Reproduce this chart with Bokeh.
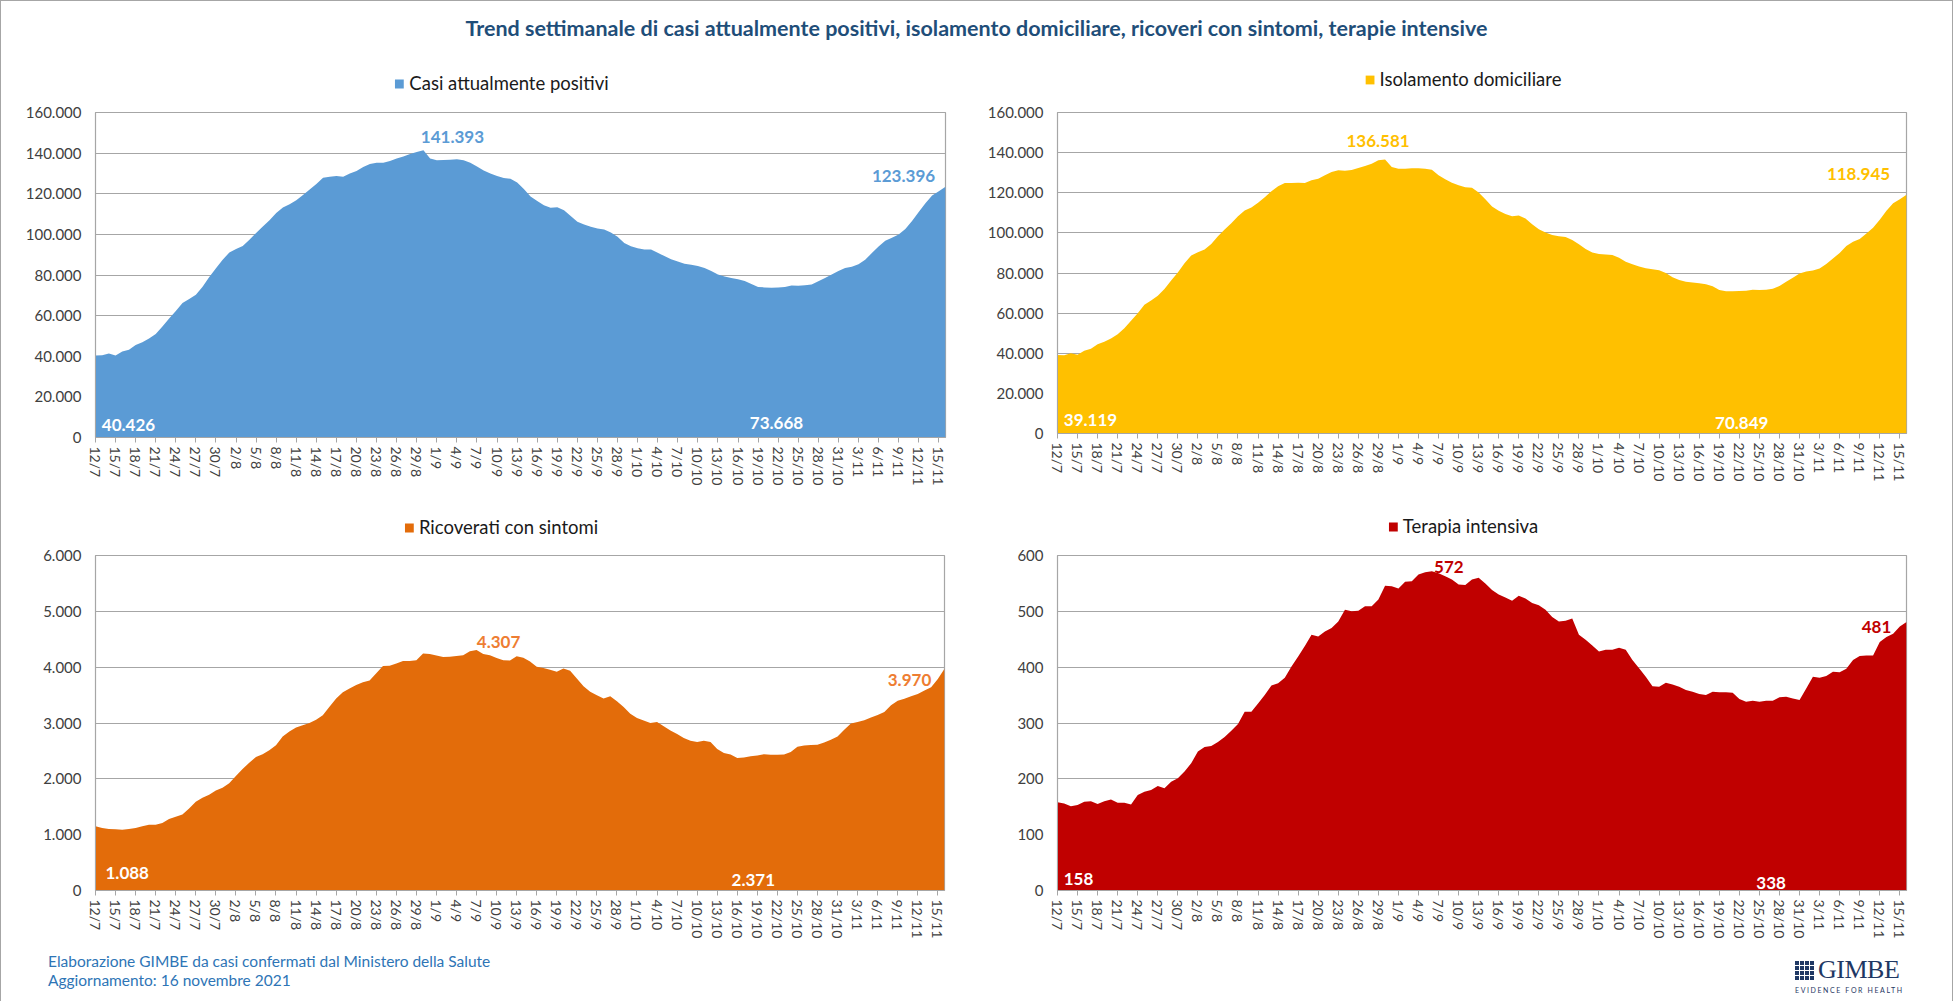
import math
from bokeh.plotting import figure
from bokeh.layouts import column, row
from bokeh.models import Range1d, FixedTicker, Label, Legend, LegendItem, Div
from bokeh.embed import file_html
from bokeh.resources import INLINE

TITLE = ("Trend settimanale di casi attualmente positivi, isolamento domiciliare, "
         "ricoveri con sintomi, terapie intensive")
FOOT1 = "Elaborazione GIMBE da casi confermati dal Ministero della Salute"
FOOT2 = "Aggiornamento: 16 novembre 2021"

# daily points, 12/7/2021 ... 16/11/2021 (128 days); ticks every 3 days
tick_labels = ["12/7", "15/7", "18/7", "21/7", "24/7", "27/7", "30/7", "2/8", "5/8", "8/8",
               "11/8", "14/8", "17/8", "20/8", "23/8", "26/8", "29/8", "1/9", "4/9", "7/9",
               "10/9", "13/9", "16/9", "19/9", "22/9", "25/9", "28/9", "1/10", "4/10", "7/10",
               "10/10", "13/10", "16/10", "19/10", "22/10", "25/10", "28/10", "31/10", "3/11",
               "6/11", "9/11", "12/11", "15/11"]

series_names = ["Casi attualmente positivi", "Isolamento domiciliare",
                "Ricoverati con sintomi", "Terapia intensiva"]

positivi = [
    40426, 40500, 41400, 40400, 42300, 43200, 45600, 46900, 48800, 51000,
    54600, 58600, 62300, 66200, 68200, 70300, 74200, 79000, 83300, 87500,
    91100, 92800, 94300, 97400, 100700, 103900, 107000, 110500, 113200, 114800,
    116800, 119400, 122100, 124800, 127900, 128400, 128700, 128400, 130000, 131200,
    133200, 134600, 135300, 135300, 136100, 137400, 138300, 139600, 140600, 141393,
    137400, 136500, 136600, 136800, 137000, 136500, 135300, 133400, 131400, 130000,
    128700, 127800, 127400, 125500, 122400, 118600, 116400, 114400, 113100, 113300,
    111900, 109100, 106200, 104900, 103700, 102900, 102400, 100900, 98800, 95700,
    94100, 93200, 92500, 92500, 91000, 89300, 87700, 86600, 85600, 85100,
    84400, 83400, 82000, 80200, 79300, 78500, 77900, 77100, 75600, 74100,
    73900, 73668, 73800, 74100, 74800, 74700, 74900, 75300, 76900, 78500,
    80200, 82000, 83500, 84100, 85300, 87500, 90800, 94000, 96900, 98400,
    100000, 102600, 106600, 111000, 115300, 119200, 121200, 123396]

isolamento = [
    39119, 39000, 40000, 39300, 41300, 42300, 44500, 45700, 47300, 49500,
    52500, 56200, 60000, 64200, 66300, 68700, 72000, 76200, 80300, 84800,
    88700, 90300, 91700, 94500, 98300, 101700, 104800, 108300, 111200, 112700,
    115000, 117800, 120700, 123200, 124800, 124800, 125000, 124800, 126200, 127000,
    128700, 130300, 131200, 131000, 131300, 132300, 133300, 134500, 136200, 136581,
    132800, 132000, 132000, 132200, 132200, 132000, 131500, 128700, 126700, 125000,
    123700, 122700, 122500, 120100, 116700, 113100, 111000, 109400, 108300, 108600,
    107200, 104300, 101800, 100200, 98900, 98300, 98000, 96500, 94300, 92000,
    90200, 89500, 89200, 89000, 87600, 85600, 84300, 83200, 82400, 81900,
    81400, 80000, 77900, 76500, 75600, 75300, 74900, 74400, 73400, 71500,
    70900, 70849, 71000, 71200, 71700, 71500, 71600, 72200, 73500, 75600,
    77600, 79800, 80800, 81300, 82300, 84500, 87200, 90000, 93500, 95600,
    97000, 99700, 102600, 106500, 111000, 114800, 116700, 118945]

ricoverati = [
    1149, 1118, 1100, 1095, 1088, 1100, 1118, 1150, 1176, 1178,
    1210, 1280, 1320, 1360, 1470, 1590, 1660, 1715, 1790, 1840,
    1920, 2050, 2175, 2290, 2390, 2440, 2510, 2600, 2760, 2850,
    2920, 2960, 3000, 3060, 3140, 3290, 3440, 3550, 3620, 3680,
    3730, 3760, 3890, 4020, 4026, 4065, 4110, 4110, 4125, 4245,
    4236, 4210, 4180, 4185, 4200, 4215, 4285, 4307, 4235, 4215,
    4165, 4125, 4120, 4195, 4170, 4100, 4008, 3985, 3955, 3918,
    3978, 3936, 3798, 3660, 3558, 3498, 3438, 3480, 3390, 3285,
    3165, 3088, 3045, 3000, 3018, 2942, 2865, 2805, 2732, 2680,
    2658, 2682, 2658, 2535, 2462, 2434, 2371, 2382, 2406, 2418,
    2442, 2430, 2430, 2436, 2480, 2575, 2595, 2604, 2610, 2650,
    2700, 2760, 2880, 2990, 3020, 3050, 3100, 3145, 3195, 3320,
    3400, 3435, 3480, 3520, 3580, 3640, 3790, 3970]

terapia = [
    158, 156, 151, 153, 159, 160, 155, 160, 163, 157,
    157, 154, 171, 177, 180, 187, 183, 195, 201, 213,
    228, 249, 257, 259, 266, 275, 286, 298, 320, 320,
    335, 350, 367, 371, 381, 401, 419, 438, 458, 455,
    464, 470, 482, 503, 500, 501, 509, 509, 521, 546,
    545, 541, 553, 554, 566, 570, 572, 568, 563, 557,
    548, 547, 557, 560, 550, 538, 530, 525, 519, 528,
    523, 515, 511, 503, 490, 482, 483, 487, 458, 449,
    439, 428, 431, 431, 435, 431, 413, 398, 383, 366,
    365, 372, 369, 365, 359, 356, 352, 350, 356, 355,
    355, 354, 343, 338, 340, 338, 340, 340, 346, 347,
    344, 341, 362, 383, 381, 384, 392, 391, 397, 413,
    420, 421, 421, 445, 454, 460, 473, 481]

y_ticks_casi = [0, 20000, 40000, 60000, 80000, 100000, 120000, 140000, 160000]
y_labels_casi = ["0", "20.000", "40.000", "60.000", "80.000", "100.000", "120.000",
                 "140.000", "160.000"]
y_ticks_ric = [0, 1000, 2000, 3000, 4000, 5000, 6000]
y_labels_ric = ["0", "1.000", "2.000", "3.000", "4.000", "5.000", "6.000"]
y_ticks_ti = [0, 100, 200, 300, 400, 500, 600]
y_labels_ti = ["0", "100", "200", "300", "400", "500", "600"]

for s in (positivi, isolamento, ricoverati, terapia):
    assert len(s) == 128, len(s)
assert len(tick_labels) == 43

FONT = "Lato"
GRID = "#A6A6A6"
TXT = "#404040"


def fmt(v):
    return f"{v:,}".replace(",", ".")


def legend_strip(name, fill, width, height):
    """A thin band above a chart that carries its legend key, centred like Excel's."""
    s = figure(width=width, height=height, x_range=Range1d(0, width),
               y_range=Range1d(0, height), x_axis_type=None, y_axis_type=None,
               output_backend="svg", toolbar_location=None, min_border=0)
    s.outline_line_color = None
    s.background_fill_color = "white"
    s.border_fill_color = "white"
    s.grid.visible = False
    # zero-area area glyph: only its legend key is visible
    key = s.varea(x=[0, 1], y1=[0, 0], y2=[0, 0], fill_color=fill, fill_alpha=1.0)
    leg = Legend(items=[LegendItem(label=name, renderers=[key])], location="bottom_center",
                 orientation="horizontal", border_line_color=None,
                 background_fill_alpha=0, padding=0, margin=0, spacing=0,
                 glyph_width=11, glyph_height=11, label_standoff=5, label_height=18,
                 label_text_font=FONT, label_text_font_size="18.5px",
                 label_text_color="#1a1a1a")
    s.add_layout(leg)
    return s


def panel(values, fill, yticks, ylabels, width, height, bl, br, bt, bb, annots):
    n = len(values)
    days = list(range(n))
    p = figure(width=width, height=height, x_range=Range1d(0, n - 1),
               y_range=Range1d(yticks[0], yticks[-1]), output_backend="svg",
               toolbar_location=None, min_border_left=bl, min_border_right=br,
               min_border_top=bt, min_border_bottom=bb)
    p.background_fill_color = "white"
    p.border_fill_color = "white"
    p.outline_line_color = GRID
    p.outline_line_width = 1.2
    p.varea(x=days, y1=0, y2=values, fill_color=fill, fill_alpha=1.0)

    p.xgrid.visible = False
    p.ygrid.grid_line_color = GRID
    p.ygrid.grid_line_width = 1.2
    p.ygrid.ticker = FixedTicker(ticks=yticks)

    xa = p.xaxis[0]
    xa.ticker = FixedTicker(ticks=list(range(0, n - 1, 3)))
    xa.major_label_overrides = {i * 3: t for i, t in enumerate(tick_labels)}
    xa.major_label_orientation = -math.pi / 2
    xa.major_label_text_font = FONT
    xa.major_label_text_font_size = "14px"
    xa.major_label_text_color = TXT
    xa.major_tick_out = 5
    xa.major_tick_in = 0
    xa.major_tick_line_color = GRID
    xa.minor_tick_line_color = None
    xa.axis_line_color = GRID
    xa.major_label_standoff = 4

    ya = p.yaxis[0]
    ya.ticker = FixedTicker(ticks=yticks)
    ya.major_label_overrides = {t: l for t, l in zip(yticks, ylabels)}
    ya.major_label_text_font = FONT
    ya.major_label_text_font_size = "15px"
    ya.major_label_text_color = TXT
    ya.major_tick_out = 0
    ya.major_tick_in = 0
    ya.minor_tick_line_color = None
    ya.axis_line_color = GRID
    ya.major_label_standoff = 14

    for idx, at_value, color, dx, dy in annots:
        p.add_layout(Label(x=idx, y=values[idx] if at_value else 0, text=fmt(values[idx]),
                           x_offset=dx, y_offset=dy, text_align="center",
                           text_baseline="middle", text_font=FONT,
                           text_font_size="17px", text_font_style="bold",
                           text_color=color))
    return p


def peak(v):
    return v.index(max(v))


def low(v, start=60):
    sub = v[start:]
    return start + sub.index(min(sub))


def first_low(v, stop=10):
    sub = v[:stop]
    return sub.index(min(sub))


BLUE, YELLOW, ORANGE, RED = "#5B9BD5", "#FFC000", "#E36C0A", "#C00000"
ORANGE_LAB = "#EE7D32"

# top row begins 58px into the page, bottom row 492px, footer 945px
s1 = legend_strip(series_names[0], BLUE, 943, 34)
s2 = legend_strip(series_names[1], YELLOW, 922, 30)
s3 = legend_strip(series_names[2], ORANGE, 943, 44)
s4 = legend_strip(series_names[3], RED, 922, 43)

p1 = panel(positivi, BLUE, y_ticks_casi, y_labels_casi, 981, 400, 94, 37, 18, 57,
           [(0, False, "white", 33, 13), (peak(positivi), True, BLUE, 29, 13),
            (low(positivi), False, "white", 5, 15), (127, True, BLUE, -42, 11)])
p2 = panel(isolamento, YELLOW, y_ticks_casi, y_labels_casi, 960, 404, 75, 36, 22, 61,
           [(0, False, "white", 33, 14), (peak(isolamento), True, YELLOW, -7, 18),
            (low(isolamento), False, "white", 9, 11), (127, True, YELLOW, -48, 21)])
p3 = panel(ricoverati, ORANGE, y_ticks_ric, y_labels_ric, 981, 409, 94, 38, 17, 57,
           [(first_low(ricoverati), False, "white", 5, 18),
            (peak(ricoverati), True, ORANGE_LAB, 22, 8),
            (low(ricoverati), False, "white", 16, 11), (127, True, ORANGE_LAB, -35, -11)])
p4 = panel(terapia, RED, y_ticks_ti, y_labels_ti, 960, 410, 75, 36, 18, 57,
           [(0, False, "white", 21, 12), (peak(terapia), True, RED, 17, 4),
            (low(terapia), False, "white", 25, 8), (127, True, RED, -30, -5)])

title = Div(text=(f'<div style="width:1941px;text-align:center;padding-top:10px;'
                  f'font-family:Lato;font-size:21.5px;font-weight:bold;line-height:24px;'
                  f'color:#1F4E79;white-space:nowrap;">{TITLE}</div>'), width=1941, height=49)

logo = ('<div style="position:absolute;left:1789px;top:6px;width:116px;'
        'font-family:\'Liberation Serif\';color:#1F3864;">'
        '<div style="display:flex;align-items:center;">'
        '<span style="display:inline-block;width:19px;height:19px;margin-right:4px;'
        'background-color:#1F3864;'
        'background-image:repeating-linear-gradient(90deg,transparent 0 4px,#fff 4px 5px),'
        'repeating-linear-gradient(0deg,transparent 0 4px,#fff 4px 5px);"></span>'
        '<span style="font-size:26px;line-height:24px;letter-spacing:-0.5px;">GIMBE</span></div>'
        '<div style="font-family:Lato;font-size:7px;letter-spacing:1.6px;margin-top:3px;'
        'white-space:nowrap;">EVIDENCE FOR HEALTH</div></div>')
footer = Div(text=(f'<div style="position:relative;width:1941px;height:48px;">'
                   f'<div style="position:absolute;left:42px;top:0px;font-family:Lato;'
                   f'font-size:15.5px;line-height:19px;color:#2E75B6;white-space:nowrap;">'
                   f'{FOOT1}<br>{FOOT2}</div>{logo}</div>'), width=1941, height=48)

layout = column(title,
                row(column(s1, p1), column(s2, p2)),
                row(column(s3, p3), column(s4, p4)),
                footer,
                styles={"border": "1px solid #A6A6A6"})

open("out.html", "w").write(file_html(layout, INLINE))
